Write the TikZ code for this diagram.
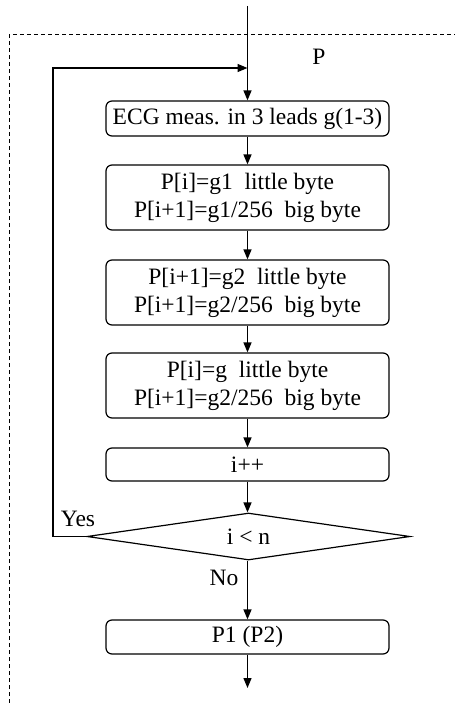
\documentclass[tikz,border=0pt]{standalone}
\usepackage{fontspec}
\setmainfont{Liberation Serif}
\usetikzlibrary{arrows.meta,shapes.geometric}
\begin{document}
\begin{tikzpicture}[x=1pt,y=-1pt,
  every node/.style={font=\fontsize{23.5}{28}\selectfont},
  procbox/.style={draw,line width=1.2pt,rounded corners=6pt,minimum width=283pt,inner sep=0pt,align=center},
  decbox/.style={draw,line width=1.2pt,diamond,aspect=6.87,minimum width=323pt,minimum height=47pt,inner sep=0pt},
  arr/.style={line width=1.3pt,-{Triangle[length=10pt,width=8pt]}},
  lbl/.style={inner sep=0pt}]
\useasboundingbox (0,0) rectangle (455,703);
% dashed frame
\draw[line width=1pt,dash pattern=on 4pt off 3pt] (9,703) -- (9,35) -- (455,35);
% nodes
\node[procbox,minimum height=35pt] (b1) at (247.5,118.5) {ECG meas. in 3 leads g(1-3)};
\node[procbox,minimum height=65pt] (b2) at (247.5,197.5) {P[i]=g1\ \ little byte\\P[i+1]=g1/256\ \ big byte};
\node[procbox,minimum height=65pt] (b3) at (247.5,292.5) {P[i+1]=g2\ \ little byte\\P[i+1]=g2/256\ \ big byte};
\node[procbox,minimum height=65pt] (b4) at (247.5,385.5) {P[i]=g\ \ little byte\\P[i+1]=g2/256\ \ big byte};
\node[procbox,minimum height=33pt] (b5) at (247.5,464.5) {i++};
\node[decbox] (d) at (248.5,536.5) {i < n};
\node[procbox,minimum height=34pt] (b6) at (247.5,637) {P1 (P2)};
% coordinates
\coordinate (top) at (247.5,6);
\coordinate (junc) at (247.5,68);
\coordinate (cB) at (53,536.5);
\coordinate (cT) at (53,68);
\coordinate (out) at (247.5,688);
% labels
\node[lbl] (lp) at (319,57) {P};
\node[lbl] (lyes) at (78,519) {Yes};
\node[lbl] (lno) at (224,578) {No};
% connectors
\draw[arr] (top) -- (b1.north);
\draw[arr] (d.west) -- (cB) -- (cT) -- (junc);
\draw[arr] (b1) -- (b2);
\draw[arr] (b2) -- (b3);
\draw[arr] (b3) -- (b4);
\draw[arr] (b4) -- (b5);
\draw[arr] (b5.south) -- (b5.south |- d.north);
\draw[arr] (d.south -| b6.north) -- (b6.north);
\draw[arr] (b6.south) -- (out);
\end{tikzpicture}
\end{document}
